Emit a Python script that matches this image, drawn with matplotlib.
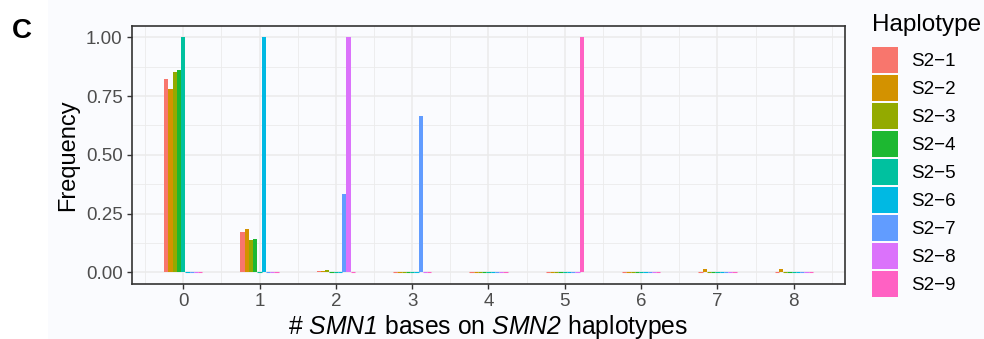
import matplotlib
matplotlib.use("Agg")
import matplotlib.pyplot as plt
from matplotlib.patches import Patch, Rectangle
import numpy as np

# Data
bases = [0, 1, 2, 3, 4, 5, 6, 7, 8]
haplotypes = ["S2\u22121", "S2\u22122", "S2\u22123", "S2\u22124", "S2\u22125",
              "S2\u22126", "S2\u22127", "S2\u22128", "S2\u22129"]
s2_1 = [0.821, 0.171, 0.006, 0, 0, 0, 0, 0, 0]
s2_2 = [0.779, 0.184, 0.006, 0, 0, 0, 0, 0.014, 0.014]
s2_3 = [0.851, 0.137, 0.011, 0, 0, 0, 0, 0, 0]
s2_4 = [0.860, 0.141, 0, 0, 0, 0, 0, 0, 0]
s2_5 = [1.0, 0, 0, 0, 0, 0, 0, 0, 0]
s2_6 = [0, 1.0, 0, 0, 0, 0, 0, 0, 0]
s2_7 = [0, 0, 0.333, 0.667, 0, 0, 0, 0, 0]
s2_8 = [0, 0, 1.0, 0, 0, 0, 0, 0, 0]
s2_9 = [0, 0, 0, 0, 0, 1.0, 0, 0, 0]
series = [s2_1, s2_2, s2_3, s2_4, s2_5, s2_6, s2_7, s2_8, s2_9]
colors = ["#F8766D", "#D39200", "#93AA00", "#1DB831", "#00C19F",
          "#00B9E3", "#619CFF", "#DB72FB", "#FF61C3"]

plt.rcParams["font.family"] = ["Liberation Sans", "DejaVu Sans"]
# math text is only used for the italic gene names, digits included
plt.rcParams["mathtext.fontset"] = "custom"
plt.rcParams["mathtext.rm"] = "Liberation Sans:italic"
plt.rcParams["mathtext.it"] = "Liberation Sans:italic"

bg = "#FAFBFE"
fig = plt.figure(figsize=(9.84, 3.39), dpi=100, facecolor=bg)
fig.patches.append(Rectangle((0, 0), 48 / 984, 1, transform=fig.transFigure,
                             facecolor="white", edgecolor="none", zorder=-10))
ax = fig.add_axes([131.7 / 984, 55 / 339, (845.3 - 131.7) / 984, (284 - 25.7) / 339])
ax.set_facecolor(bg)

# dodged bars, total width 0.5
n = len(series)
w = 0.5 / n
x = np.array(bases, dtype=float)
for i, (vals, c) in enumerate(zip(series, colors)):
    lws = [0.8 if v == 0 else 0 for v in vals]
    ax.bar(x + (i - (n - 1) / 2) * w, vals, width=w, color=c, edgecolor=c,
           linewidth=lws, zorder=3)

ax.set_xlim(-0.675, 8.675)
ax.set_ylim(-0.05, 1.05)
ax.set_xticks(bases)
ax.set_xticks(np.arange(-0.5, 9, 1), minor=True)
ax.set_yticks([0, 0.25, 0.5, 0.75, 1.0])
ax.set_yticklabels(["0.00", "0.25", "0.50", "0.75", "1.00"])
ax.set_yticks(np.arange(0.125, 1.05, 0.25), minor=True)

ax.grid(which="major", color="#EBEBEB", linewidth=1.1, zorder=0)
ax.grid(which="minor", color="#EBEBEB", linewidth=0.6, zorder=0)
ax.set_axisbelow(True)

for sp in ax.spines.values():
    sp.set_color("#333333")
    sp.set_linewidth(1.2)
ax.tick_params(which="major", length=3.5, width=1.0, color="#333333",
               labelsize=13.5, labelcolor="#4D4D4D", pad=3)
ax.tick_params(which="minor", length=0)

ax.set_ylabel("Frequency", fontsize=17, color="black", labelpad=5)
ax.set_xlabel(r"# $SMN1$ bases on $SMN2$ haplotypes", fontsize=17.8,
              color="black", labelpad=2)

# panel tag
fig.text(12 / 984, 1 - 38 / 339, "C", fontsize=20, fontweight="bold",
         ha="left", va="baseline")

# legend
fig.text(872 / 984, 1 - 31 / 339, "Haplotype", fontsize=17.5, ha="left",
         va="baseline", color="black")
handles = [Patch(facecolor=c, edgecolor="none") for c in colors]
fs = 13.5 * 100 / 72
fig.legend(handles, haplotypes, loc="upper left",
           bbox_to_anchor=(872 / 984, 1 - 47 / 339), frameon=False,
           fontsize=13.5, borderpad=0, borderaxespad=0,
           handlelength=26 / fs, handleheight=1.757,
           labelspacing=2 / fs, handletextpad=13 / fs)

fig.savefig("out.png", dpi=100, facecolor=bg)
